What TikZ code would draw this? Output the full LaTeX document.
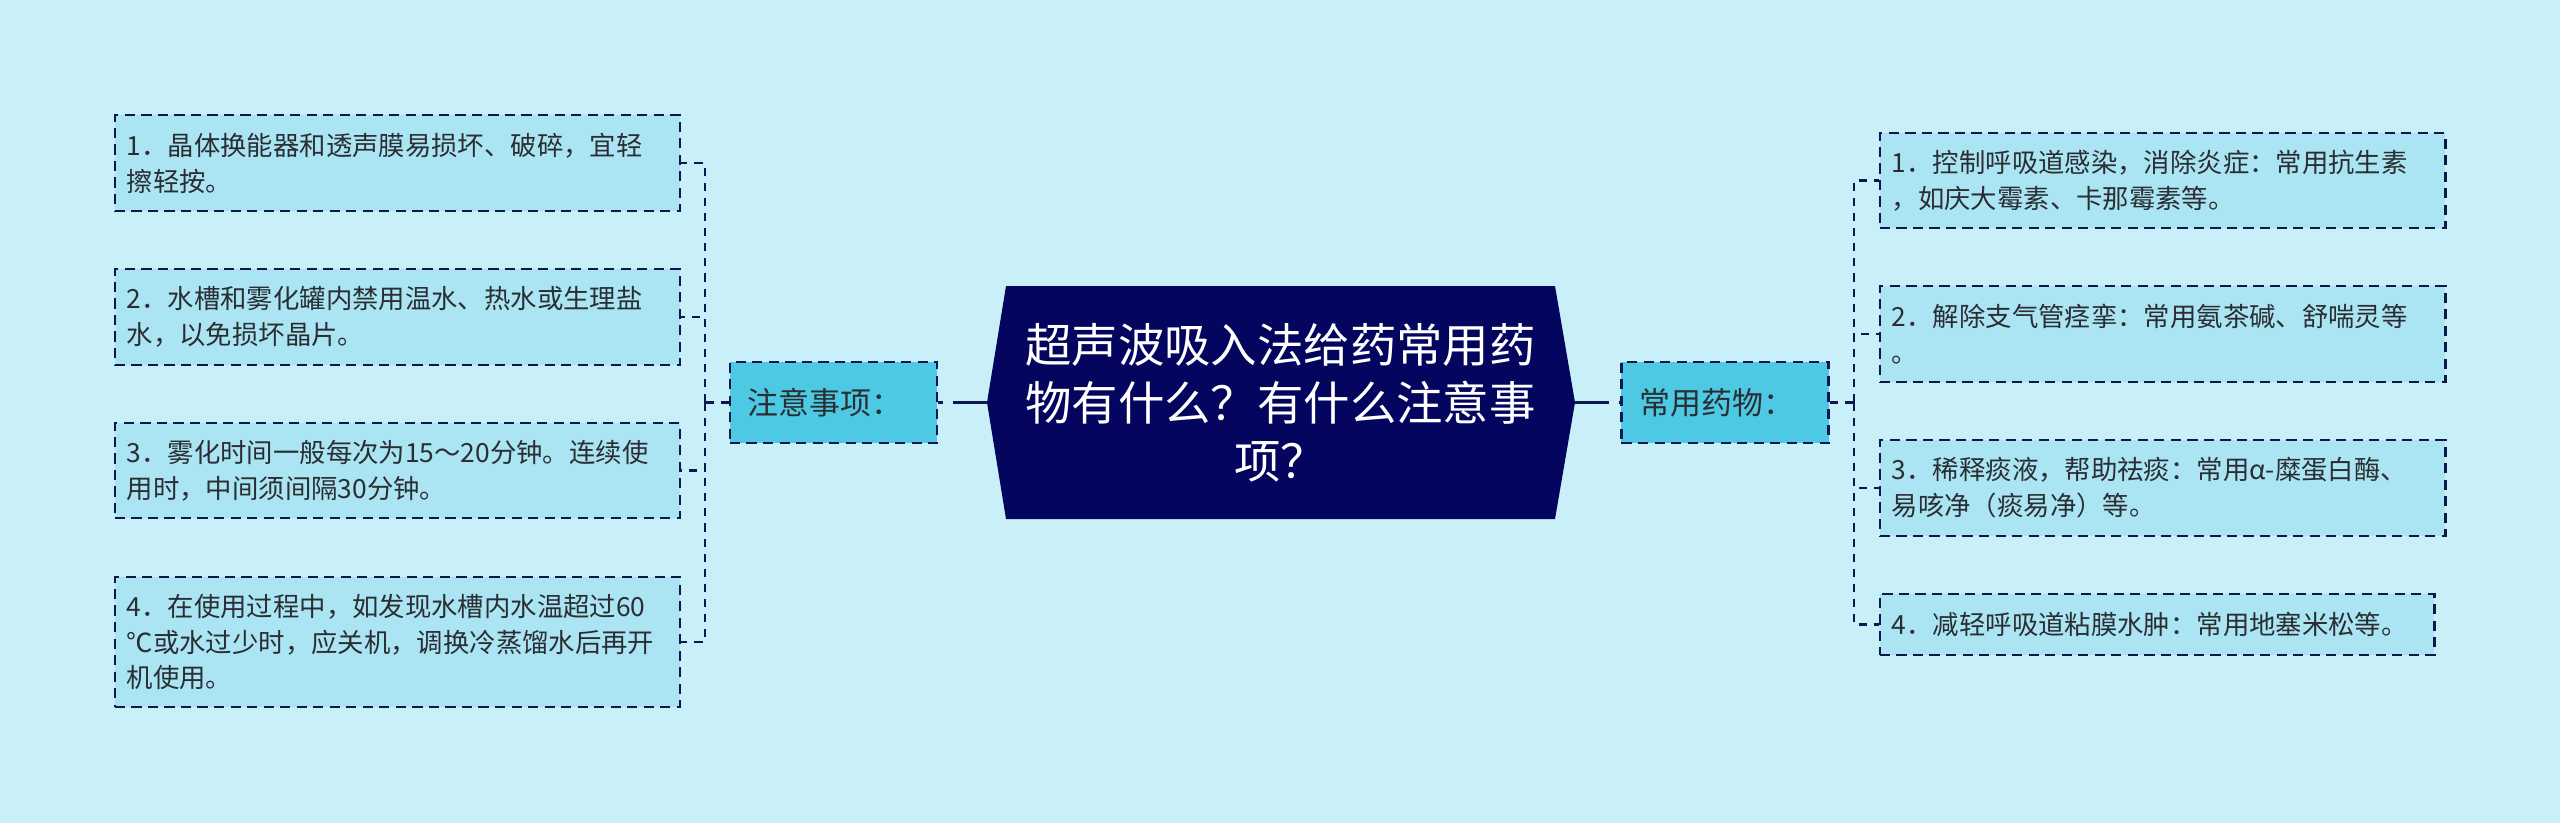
\documentclass[tikz,border=0pt]{standalone}
\usepackage{fontspec}
\usepackage{tikz}
\usepackage{xcolor}
\usetikzlibrary{positioning, calc}
\newfontfamily\cjk{Noto Sans CJK SC}
\definecolor{bgc}{HTML}{C9F0F8}
\definecolor{leafc}{HTML}{ABE5F3}
\definecolor{topicc}{HTML}{4DC9E4}
\definecolor{rootc}{HTML}{03055E}
\definecolor{linec}{HTML}{0D1850}
\definecolor{textc}{HTML}{2A2E33}
\tikzset{
  leaf/.style={draw=linec, line width=0.75pt, dash pattern=on 2.9pt off 1.8pt, fill=leafc, text=textc,
    font=\cjk\fontsize{7.5pt}{10.2pt}\selectfont, align=left, inner xsep=0.12cm, inner ysep=0pt, text width=5.41cm},
  topic/.style={draw=linec, line width=0.75pt, dash pattern=on 2.9pt off 1.8pt, fill=topicc, text=textc,
    font=\cjk\fontsize{8.8pt}{10pt}\selectfont, align=left, text width=1.71cm, inner xsep=0.18cm,
    minimum height=0.81cm, inner ysep=0pt},
  rootbox/.style={text=white, font=\cjk\fontsize{13.2pt}{16.5pt}\selectfont, align=center,
    minimum width=5.49cm, minimum height=2.33cm, inner sep=0pt},
  link/.style={draw=linec, line width=0.75pt, dash pattern=on 2.3pt off 2pt},
  trunk/.style={draw=linec, line width=1pt, dash pattern=on 9.7pt off 2.8pt}
}
\begin{document}
\begin{tikzpicture}[x=0.01cm, y=-0.01cm]
    \fill[bgc] (0,0) rectangle (2560,823);
    \useasboundingbox (0,0) rectangle (2560,823);
    % centre topic
    \fill[rootc] (1006,286) -- (1555,286) -- (1575,402.5) -- (1555,519) -- (1006,519) -- (987,402.5) -- cycle;
    \node[rootbox] (root) at (1280.5,402.5) {超声波吸入法给药常用药\\物有什么？有什么注意事\\项？};
    \coordinate (rootw) at (987,402.5);
    \coordinate (roote) at (1575,402.5);
    % left branch
    \node[topic] (warn) at (833.5,402.5) {注意事项：};
    \node[leaf, minimum height=0.96cm] (l1) at (397.5,163) {1．晶体换能器和透声膜易损坏、破碎，宜轻\\擦轻按。};
    \node[leaf, minimum height=0.96cm] (l2) at (397.5,317) {2．水槽和雾化罐内禁用温水、热水或生理盐\\水，以免损坏晶片。};
    \node[leaf, minimum height=0.95cm] (l3) at (397.5,470.5) {3．雾化时间一般每次为15～20分钟。连续使\\用时，中间须间隔30分钟。};
    \node[leaf, minimum height=1.30cm] (l4) at (397.5,642) {4．在使用过程中，如发现水槽内水温超过60\\℃或水过少时，应关机，调换冷蒸馏水后再开\\机使用。};
    \coordinate (lbus) at (705,402.5);
    % right branch
    \node[topic] (drug) at (1725,402.5) {常用药物：};
    \node[leaf, minimum height=0.95cm] (r1) at (2162.5,180.5) {1．控制呼吸道感染，消除炎症：常用抗生素\\，如庆大霉素、卡那霉素等。};
    \node[leaf, minimum height=0.96cm] (r2) at (2162.5,334) {2．解除支气管痉挛：常用氨茶碱、舒喘灵等\\。};
    \node[leaf, minimum height=0.96cm] (r3) at (2162.5,488) {3．稀释痰液，帮助祛痰：常用α-糜蛋白酶、\\易咳净（痰易净）等。};
    \node[leaf, minimum height=0.61cm, text width=5.30cm] (r4) at (2157,624.5) {4．减轻呼吸道粘膜水肿：常用地塞米松等。};
    \coordinate (rbus) at (1854,402.5);
    % connectors
    \draw[trunk] (rootw) -- (warn.east);
    \draw[trunk] (roote) -- (drug.west);
    \draw[link] (warn.west) -- (lbus);
    \draw[link] (drug.east) -- (rbus);
    \foreach \i in {1,...,4} {
        \draw[link] (lbus) |- (l\i.east);
        \draw[link] (rbus) |- (r\i.west);
    }
\end{tikzpicture}
\end{document}
